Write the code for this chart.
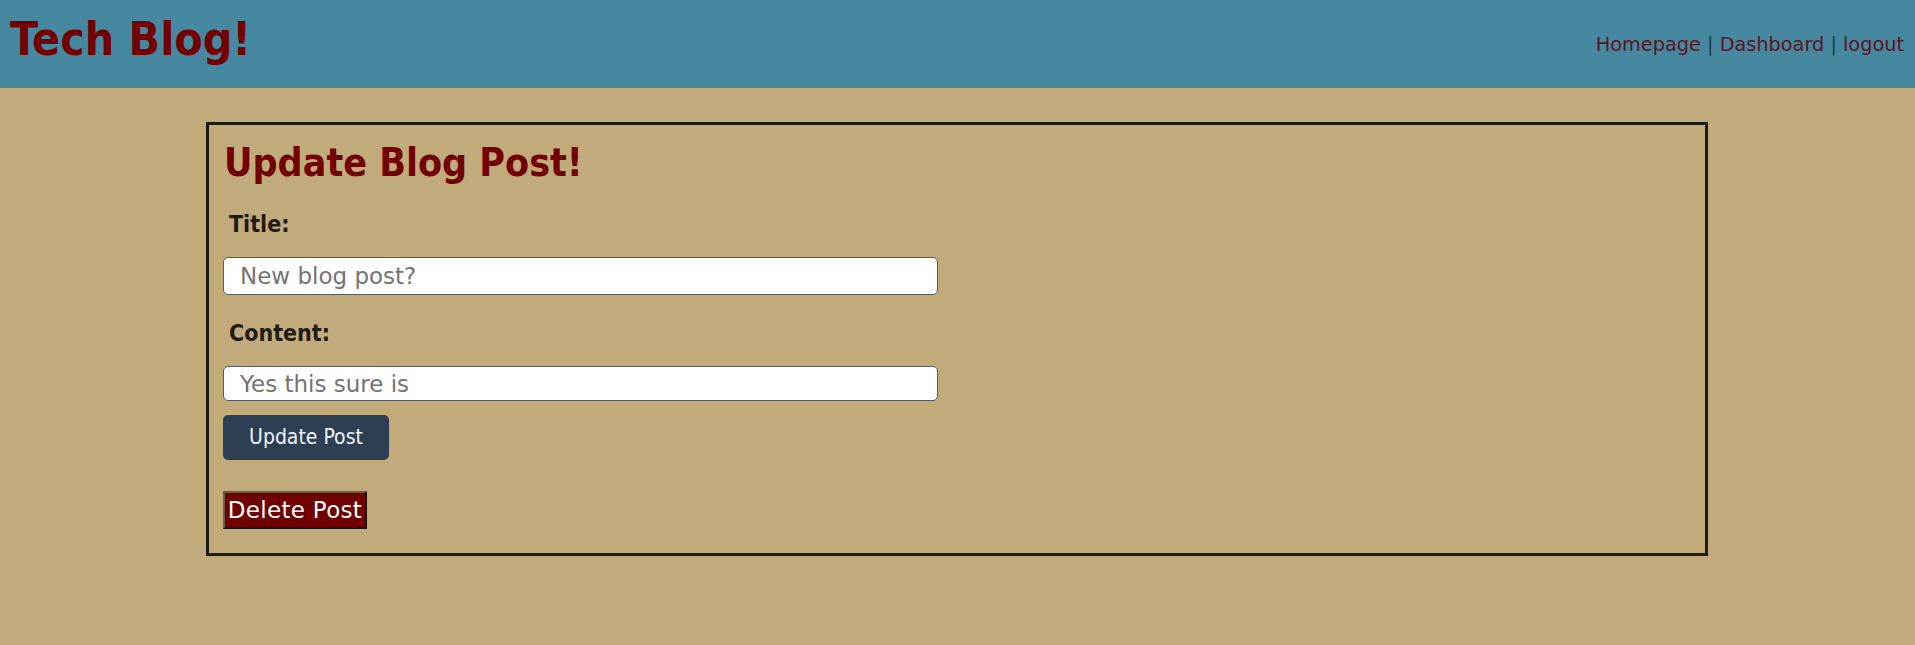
<!DOCTYPE html>
<html>
<head>
<meta charset="utf-8">
<script src="https://cdn.jsdelivr.net/npm/chart.js@4"></script>
<style>
  html, body { margin:0; padding:0; }
  body { width:1915px; height:645px; background:#c2ab7b; position:relative; overflow:hidden;
         font-family:"DejaVu Sans", sans-serif; }
  .cond { font-family:"DejaVu Sans Condensed","DejaVu Sans",sans-serif; font-stretch:condensed; }
  #header { position:absolute; left:0; top:0; width:1915px; height:88px; background:#45889f; }
  #brand { position:absolute; left:10px; top:16px; font-size:46px; line-height:1; font-weight:bold; color:#730000; white-space:nowrap; }
  #nav { position:absolute; right:11px; top:35px; font-size:19.3px; line-height:1; color:#1b4150; white-space:nowrap; }
  #nav a { color:#5e1522; text-decoration:none; }
  #box { position:absolute; left:206px; top:122px; width:1496px; height:428px; border:3px solid #1e1a14; }
  .abs { position:absolute; white-space:nowrap; line-height:1; }
  #heading { left:224px; top:143px; font-size:39px; font-weight:bold; color:#730000; }
  .label { font-size:23px; font-weight:bold; color:#1f1a12; }
  .field { position:absolute; left:223px; width:715px; box-sizing:border-box; border:1px solid #5a5a5a; border-radius:5px;
           background:#fff; font-family:"DejaVu Sans",sans-serif; font-size:23px; padding:0 0 0 16px; margin:0; outline:none; }
  .field::placeholder { color:#737373; opacity:1; }
  #update { position:absolute; left:223px; top:415px; width:166px; height:45px; box-sizing:border-box; border:none; border-radius:5px;
            background:#2e3e53; color:#eef4ff; font-size:21px; line-height:45px; text-align:center; }
  #delete { position:absolute; left:223px; top:491px; width:144px; height:38px; box-sizing:border-box; border:2px outset #6b5b47;
            background:#700000; color:#ffffff; font-size:23px; letter-spacing:0.3px; line-height:34px; text-align:center; }
</style>
</head>
<body>
<script>
  // Page content (the reference contains no chart data, only page text)
  const siteTitle = "Tech Blog!";
  const navLinks = ["Homepage", "Dashboard", "logout"];
  const formHeading = "Update Blog Post!";
  const fieldLabels = ["Title:", "Content:"];
  const fieldPlaceholders = ["New blog post?", "Yes this sure is"];
  const buttonLabels = ["Update Post", "Delete Post"];
</script>
<div id="header">
  <div id="brand" class="cond"></div>
  <div id="nav"></div>
</div>
<div id="box"></div>
<div id="heading" class="abs cond"></div>
<div id="lbl0" class="abs label cond" style="left:229px;top:213px"></div>
<input id="f0" class="field" style="top:257px;height:38px" type="text">
<div id="lbl1" class="abs label cond" style="left:229px;top:322px"></div>
<input id="f1" class="field" style="top:366px;height:35px" type="text">
<div id="update" class="cond"></div>
<div id="delete"></div>
<script>
  document.getElementById('brand').textContent = siteTitle;
  const nav = document.getElementById('nav');
  navLinks.forEach((t, i) => {
    if (i > 0) nav.appendChild(document.createTextNode(' | '));
    const a = document.createElement('a'); a.href = '#'; a.textContent = t; nav.appendChild(a);
  });
  document.getElementById('heading').textContent = formHeading;
  fieldLabels.forEach((t, i) => document.getElementById('lbl' + i).textContent = t);
  fieldPlaceholders.forEach((t, i) => document.getElementById('f' + i).placeholder = t);
  document.getElementById('update').textContent = buttonLabels[0];
  document.getElementById('delete').textContent = buttonLabels[1];
</script>
</body>
</html>
